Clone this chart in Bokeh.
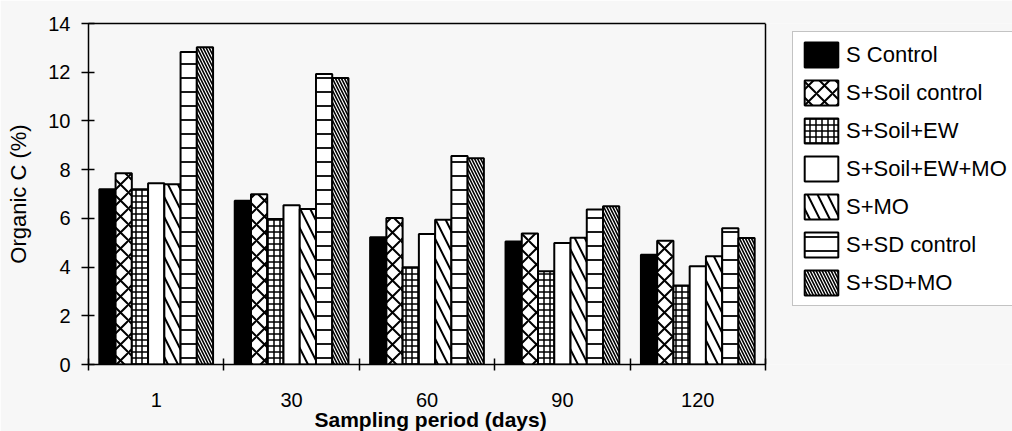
from bokeh.plotting import figure
from bokeh.models import (ColumnDataSource, FixedTicker, Legend, LegendItem, Range1d,
                          LinearAxis, Span, Title)
from bokeh.transform import dodge
from bokeh.embed import file_html
from bokeh.resources import INLINE

# ---- data ----
periods = ["1", "30", "60", "90", "120"]
series_names = ["S Control", "S+Soil control", "S+Soil+EW", "S+Soil+EW+MO",
                "S+MO", "S+SD control", "S+SD+MO"]
s_control = [7.20, 6.72, 5.22, 5.05, 4.51]
s_soil_control = [7.85, 6.99, 6.01, 5.38, 5.08]
s_soil_ew = [7.20, 5.97, 3.99, 3.83, 3.24]
s_soil_ew_mo = [7.44, 6.54, 5.36, 4.99, 4.03]
s_mo = [7.40, 6.38, 5.94, 5.20, 4.44]
s_sd_control = [12.83, 11.93, 8.56, 6.36, 5.59]
s_sd_mo = [13.02, 11.76, 8.47, 6.50, 5.19]
y_ticks = [0, 2, 4, 6, 8, 10, 12, 14]

series_values = [s_control, s_soil_control, s_soil_ew, s_soil_ew_mo,
                 s_mo, s_sd_control, s_sd_mo]
keys = ["s%d" % i for i in range(len(series_names))]

n_groups = len(periods)
x_centres = [i + 0.5 for i in range(n_groups)]
data = dict(x=x_centres)
for k, v in zip(keys, series_values):
    data[k] = v
src = ColumnDataSource(data)

# ---- layout / styles ----
FONT = "Liberation Sans"
BG = "#f7f7f7"
PLOT_W = 677          # width of the boxed plotting area
FRAME_W = 924         # frame also holds the legend to the right of the box
x_end = n_groups * FRAME_W / PLOT_W

styles = [
    dict(fill_color="black"),
    dict(fill_color="white", hatch_pattern="x", hatch_scale=16, hatch_weight=2),
    dict(fill_color="white", hatch_pattern="+", hatch_scale=6, hatch_weight=1.5),
    dict(fill_color="white"),
    dict(fill_color="white", hatch_pattern="\\", hatch_scale=20, hatch_weight=2),
    dict(fill_color="white", hatch_pattern="-", hatch_scale=14, hatch_weight=1.8),
    dict(fill_color="white", hatch_pattern="\\", hatch_scale=6, hatch_weight=1.6),
]

p = figure(frame_width=FRAME_W, frame_height=341, x_range=Range1d(0, x_end),
           y_range=Range1d(0, 14), output_backend="svg", toolbar_location=None,
           min_border_left=88, min_border_right=0, min_border_top=23, min_border_bottom=67,
           background_fill_color=BG, border_fill_color=BG)
p.outline_line_color = None

bar_w = 0.12
renderers = []
for i, (k, st) in enumerate(zip(keys, styles)):
    off = (i - 3) * bar_w
    r = p.vbar(x=dodge("x", off), top=k, width=bar_w, bottom=0, source=src,
               line_color="black", line_width=2, hatch_color="black", **st)
    renderers.append(r)

p.grid.visible = False

# x axis
xa = p.xaxis[0]
xa.bounds = (0, n_groups)
xa.ticker = FixedTicker(ticks=x_centres, minor_ticks=list(range(n_groups + 1)))
xa.major_label_overrides = {x: lab for x, lab in zip(x_centres, periods)}
xa.major_tick_line_color = None
xa.major_tick_in = 0
xa.major_tick_out = 0
xa.minor_tick_line_color = "black"
xa.minor_tick_line_width = 1.5
xa.minor_tick_in = 6
xa.minor_tick_out = 6
xa.major_label_standoff = 22
xa.major_label_text_font = FONT
xa.major_label_text_font_size = "20px"
xa.major_label_text_color = "black"
xa.axis_line_width = 1.5

# x axis title, centred under the boxed area
xtitle = Title(text="Sampling period (days)", align="left", offset=226,
               text_font=FONT, text_font_style="bold", text_font_size="21px",
               text_color="black", standoff=-8)
p.add_layout(xtitle, "below")

# top border of the box
top = LinearAxis(bounds=(0, n_groups), ticker=FixedTicker(ticks=[]),
                 major_tick_line_color=None, minor_tick_line_color=None,
                 major_label_text_font_size="0px", axis_line_width=1.5)
p.add_layout(top, "above")
# right border of the box
p.add_layout(Span(location=n_groups, dimension="height", line_color="black", line_width=1.5))

# y axis
ya = p.yaxis[0]
ya.ticker = FixedTicker(ticks=y_ticks)
ya.minor_tick_line_color = None
ya.major_tick_in = 6
ya.major_tick_out = 7
ya.major_tick_line_width = 1.5
ya.major_label_standoff = 11
ya.major_label_text_font = FONT
ya.major_label_text_font_size = "20px"
ya.major_label_text_color = "black"
ya.axis_label = "Organic C (%)"
ya.axis_label_text_font = FONT
ya.axis_label_text_font_style = "normal"
ya.axis_label_text_font_size = "22px"
ya.axis_label_text_color = "black"
ya.axis_label_standoff = 14
ya.axis_line_width = 1.5

legend = Legend(items=[LegendItem(label=n, renderers=[r]) for n, r in zip(series_names, renderers)],
                location=(PLOT_W + 27, 58), orientation="vertical",
                glyph_width=42, glyph_height=31, spacing=7, padding=7, margin=0,
                label_standoff=4, label_text_font=FONT, label_text_font_size="22px",
                label_text_color="black", label_height=31,
                border_line_color="#888888", border_line_width=1,
                background_fill_color="white", background_fill_alpha=1.0)
p.add_layout(legend, "center")

open("out.html", "w").write(file_html(p, INLINE))
